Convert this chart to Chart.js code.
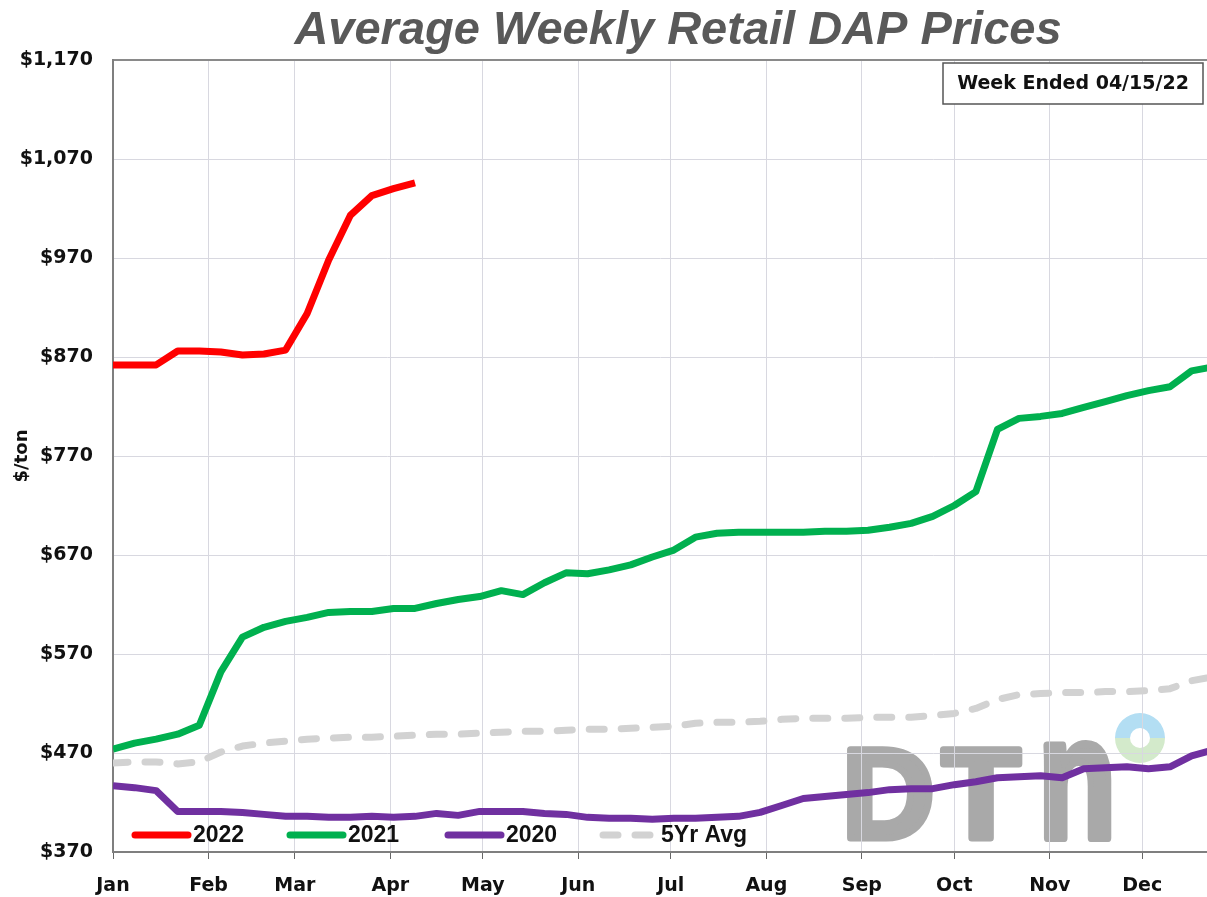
<!DOCTYPE html>
<html>
<head>
<meta charset="utf-8">
<title>Average Weekly Retail DAP Prices</title>
<script src="https://cdn.jsdelivr.net/npm/chart.js@4.4.1/dist/chart.umd.min.js"></script>
<style>
  html, body { margin: 0; padding: 0; background: #fff; }
  #wrap { width: 1207px; height: 897px; }
</style>
</head>
<body>
<div id="wrap"><canvas id="graph" width="1207" height="897"></canvas></div>
<script>
// axe des x en jours de l'annee, une valeur par semaine
const semaines = [0,7,14,21,28,35,42,49,56,63,70,77,84,91,98,105,112,119,126,133,140,147,154,161,168,175,
  182,189,196,203,210,217,224,231,238,245,252,259,266,273,280,287,294,301,308,315,322,329,336,343,350,357];
const moisJours = [0,31,59,90,120,151,181,212,243,273,304,334];
const moisNoms = ['Jan','Feb','Mar','Apr','May','Jun','Jul','Aug','Sep','Oct','Nov','Dec'];
const prixTicks = [370,470,570,670,770,870,970,1070,1170];

const prix2022 = [862,862,862,876,876,875,872,873,877,914,968,1013,1033,1040,1046];
const prix2021 = [474,480,484,489,498,552,587,597,603,607,612,613,613,616,616,621,625,628,634,630,642,652,651,655,660,668,
  675,688,692,693,693,693,693,694,694,695,698,702,709,720,734,797,808,810,813,819,825,831,836,840,856,860];
const prix2020 = [437,435,432,411,411,411,410,408,406,406,405,405,406,405,406,409,407,411,411,411,409,408,405,404,404,403,
  404,404,405,406,410,417,424,426,428,430,433,434,434,438,441,445,446,447,445,454,455,456,454,456,467,473];
const moy5ans = [460,461,461,459,461,471,477,480,482,484,485,486,486,487,488,489,489,490,491,492,492,493,494,494,495,496,
  497,500,501,501,502,504,505,505,505,506,506,506,508,510,515,524,529,530,531,531,532,532,533,535,543,547];

const points = (vals) => vals.map((v, i) => ({x: semaines[i], y: v}));

const police = '"DejaVu Sans", Verdana, sans-serif';
const arial = '"Liberation Sans", Arial, sans-serif';

// fond blanc + logo DTN sous la grille
const fond = {
  id: 'fond',
  beforeDraw(chart) {
    const ctx = chart.ctx;
    ctx.save();
    ctx.fillStyle = '#ffffff';
    ctx.fillRect(0, 0, chart.width, chart.height);
    ctx.fillStyle = '#a9a9a9';
    ctx.strokeStyle = '#a9a9a9';
    ctx.lineWidth = 7;
    ctx.lineJoin = 'round';
    ctx.font = 'bold 128px ' + arial;
    ctx.textBaseline = 'alphabetic';
    ctx.fillText('D', 842, 838);
    ctx.strokeText('D', 842, 838);
    ctx.fillText('T', 942, 838);
    ctx.strokeText('T', 942, 838);
    ctx.translate(1038, 838);
    ctx.scale(1, 1.36);
    ctx.fillText('n', 0, 0);
    ctx.lineWidth = 6;
    ctx.strokeText('n', 0, 0);
    ctx.restore();
    // le petit anneau
    ctx.save();
    ctx.fillStyle = '#b3def3';
    ctx.beginPath();
    ctx.arc(1140, 738, 25, Math.PI, 0);
    ctx.arc(1140, 738, 10, 0, Math.PI, true);
    ctx.closePath();
    ctx.fill();
    ctx.fillStyle = '#d3eacb';
    ctx.beginPath();
    ctx.arc(1140, 738, 25, 0, Math.PI);
    ctx.arc(1140, 738, 10, Math.PI, 0, true);
    ctx.closePath();
    ctx.fill();
    ctx.restore();
  }
};

// legende dans le bas du graphique
const legendeX = [135, 290, 448, 603];
const legende = {
  id: 'legende',
  afterDatasetsDraw(chart) {
    const ctx = chart.ctx;
    ctx.save();
    ctx.font = 'bold 23px ' + arial;
    ctx.textBaseline = 'middle';
    ctx.fillStyle = '#111';
    chart.data.datasets.forEach((ds, i) => {
      const x = legendeX[i], y = 835;
      ctx.strokeStyle = ds.borderColor;
      ctx.lineWidth = 7;
      ctx.lineCap = 'round';
      ctx.setLineDash(ds.borderDash || []);
      ctx.beginPath();
      ctx.moveTo(x, y);
      ctx.lineTo(x + 53, y);
      ctx.stroke();
      ctx.setLineDash([]);
      ctx.fillText(ds.label, x + 58, y + 1);
    });
    ctx.restore();
  }
};

// titre + boite "Week Ended"
const titre = {
  id: 'titre',
  afterDraw(chart) {
    const ctx = chart.ctx;
    ctx.save();
    ctx.font = 'italic bold 47px ' + arial;
    ctx.fillStyle = '#595959';
    ctx.textAlign = 'center';
    ctx.textBaseline = 'alphabetic';
    ctx.fillText('Average Weekly Retail DAP Prices', 678, 44);
    ctx.fillStyle = '#ffffff';
    ctx.fillRect(943, 63, 260, 41);
    ctx.strokeStyle = '#555';
    ctx.lineWidth = 1.5;
    ctx.strokeRect(943, 63, 260, 41);
    ctx.font = 'bold 19px ' + police;
    ctx.fillStyle = '#111';
    ctx.textBaseline = 'middle';
    ctx.fillText('Week Ended 04/15/22', 1073, 84);
    ctx.restore();
  }
};

new Chart(document.getElementById('graph'), {
  type: 'line',
  data: {
    datasets: [
      { label: '2022', data: points(prix2022), borderColor: '#ff0000', borderWidth: 7 },
      { label: '2021', data: points(prix2021), borderColor: '#00b04f', borderWidth: 7 },
      { label: '2020', data: points(prix2020), borderColor: '#7030a0', borderWidth: 7 },
      { label: '5Yr Avg', data: points(moy5ans), borderColor: '#d2d2d2', borderWidth: 7,
        borderDash: [15, 17], borderCapStyle: 'round' }
    ]
  },
  options: {
    responsive: false,
    animation: false,
    events: [],
    layout: { padding: { top: 60, right: 0, left: 0, bottom: 0 } },
    elements: { point: { radius: 0 }, line: { tension: 0, borderJoinStyle: 'round' } },
    plugins: { legend: { display: false }, tooltip: { enabled: false }, title: { display: false } },
    scales: {
      x: {
        type: 'linear',
        min: 0,
        max: 355,
        afterBuildTicks: (s) => { s.ticks = moisJours.map(v => ({ value: v })); },
        afterFit: (s) => { s.height = 45; },
        grid: { color: '#d8d8e0', lineWidth: 1, drawTicks: true, tickLength: 7, tickColor: '#666' },
        border: { display: true, color: '#7f7f7f', width: 2 },
        ticks: {
          autoSkip: false, maxRotation: 0, padding: 16,
          color: '#111', font: { family: police, size: 19, weight: 'bold' },
          callback: (v) => moisNoms[moisJours.indexOf(v)]
        }
      },
      y: {
        min: 370,
        max: 1170,
        afterBuildTicks: (s) => { s.ticks = prixTicks.map(v => ({ value: v })); },
        afterFit: (s) => { s.width = 113; },
        grid: {
          drawTicks: false,
          color: (c) => c.tick && c.tick.value === 1170 ? '#8a8a8a' : '#d8d8e0',
          lineWidth: (c) => c.tick && c.tick.value === 1170 ? 2 : 1
        },
        border: { display: true, color: '#7f7f7f', width: 2 },
        ticks: {
          padding: 20, color: '#111', font: { family: police, size: 19, weight: 'bold' },
          callback: (v) => '$' + v.toLocaleString('en-US')
        },
        title: {
          display: true, text: '$/ton', color: '#111', padding: { top: 12, bottom: 0 },
          font: { family: police, size: 18, weight: 'bold' }
        }
      }
    }
  },
  plugins: [fond, legende, titre]
});
</script>
</body>
</html>
